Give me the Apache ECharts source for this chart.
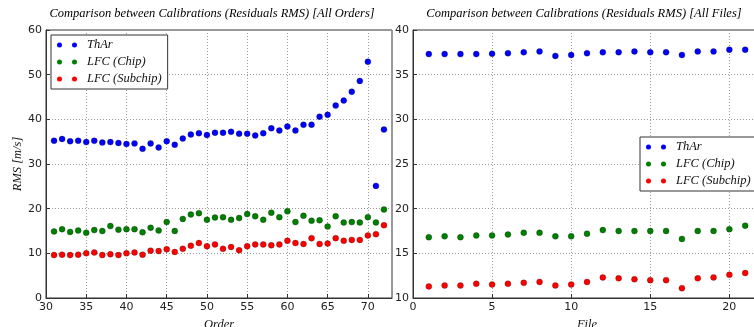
<!DOCTYPE html>
<html>
<head>
<meta charset="utf-8">
<script src="https://cdn.jsdelivr.net/npm/echarts@6/dist/echarts.min.js"></script>
<style>
  html, body { margin: 0; padding: 0; background: #fff; }
  #chart { width: 754px; height: 327px; }
</style>
</head>
<body>
<div id="chart"></div>
<script>
// Echelle orders 31..72
const orders = [31,32,33,34,35,36,37,38,39,40,41,42,43,44,45,46,47,48,49,50,51,52,53,54,55,56,57,58,59,60,61,62,63,64,65,66,67,68,69,70,71,72];
const tharByOrder = [35.2,35.6,35.1,35.2,34.9,35.2,34.8,34.9,34.7,34.5,34.6,33.4,34.6,33.7,35.1,34.3,35.7,36.6,36.9,36.5,37.0,37.0,37.2,36.8,36.8,36.4,36.9,38.0,37.5,38.4,37.5,38.8,38.8,40.6,41.0,43.1,44.2,46.2,48.6,52.9,25.1,37.7];
const chipByOrder = [14.9,15.4,14.8,15.1,14.6,15.2,15.0,16.1,15.3,15.4,15.4,14.7,15.7,15.1,17.0,15.0,17.7,18.7,19.0,17.5,18.0,18.1,17.5,17.9,18.8,18.3,17.5,19.1,18.1,19.4,17.0,18.4,17.3,17.4,16.0,18.3,16.9,17.0,16.9,18.1,16.9,19.8];
const subchipByOrder = [9.6,9.7,9.6,9.7,10.0,10.2,9.6,9.8,9.6,10.0,10.2,9.7,10.6,10.5,10.9,10.3,11.0,11.7,12.3,11.6,12.0,11.0,11.4,10.7,11.6,12.0,12.0,11.8,12.0,12.8,12.3,12.1,13.4,12.1,12.2,13.4,12.8,13.0,13.0,14.0,14.3,16.3];

// Calibration files 1..21
const files = [1,2,3,4,5,6,7,8,9,10,11,12,13,14,15,16,17,18,19,20,21];
const tharByFile = [37.3,37.3,37.3,37.3,37.35,37.4,37.5,37.6,37.1,37.2,37.4,37.5,37.5,37.6,37.5,37.5,37.2,37.6,37.6,37.8,37.8];
const chipByFile = [16.8,16.9,16.8,17.0,17.0,17.1,17.3,17.3,16.9,16.9,17.2,17.6,17.5,17.5,17.5,17.5,16.6,17.5,17.5,17.7,18.1];
const subchipByFile = [11.3,11.4,11.4,11.6,11.5,11.6,11.7,11.8,11.4,11.5,11.8,12.3,12.2,12.1,12.0,12.0,11.1,12.2,12.3,12.6,12.8];

const seriesNames = ['ThAr', 'LFC (Chip)', 'LFC (Subchip)'];
const seriesColors = ['#0000ff', '#008000', '#ff0000'];

const titles = [
  'Comparison between Calibrations (Residuals RMS) [All Orders]',
  'Comparison between Calibrations (Residuals RMS) [All Files]'
];

const serifItalic = { fontFamily: 'Liberation Serif', fontStyle: 'italic', fontSize: 12.5, color: '#111' };
const tickFont = { fontFamily: 'DejaVu Sans', fontSize: 11, color: '#222' };

// two dots per legend entry
const twoDots = 'path://M0,2.5a2.5,2.5 0 1,0 5,0a2.5,2.5 0 1,0 -5,0zM15,2.5a2.5,2.5 0 1,0 5,0a2.5,2.5 0 1,0 -5,0z';

function pairs(xs, ys) { return xs.map((x, i) => [x, ys[i]]); }

function valueAxis(gridIndex, min, max, interval, extra) {
  return Object.assign({
    type: 'value', gridIndex, min, max, interval,
    axisLine: { show: true, lineStyle: { color: '#333', width: 1 } },
    axisTick: { show: true, inside: true, length: 4, lineStyle: { color: '#333' } },
    axisLabel: Object.assign({ margin: 4, showMaxLabel: true }, tickFont),
    splitLine: { show: true, lineStyle: { color: '#999', type: [1, 2], width: 1 } }
  }, extra || {});
}

function scatter(name, color, xAxisIndex, yAxisIndex, data) {
  return {
    type: 'scatter', name, xAxisIndex, yAxisIndex, data,
    symbol: 'circle', symbolSize: 6,
    itemStyle: { color, borderColor: 'rgba(0,0,0,0.5)', borderWidth: 0.5, opacity: 1 },
    emphasis: { disabled: true }
  };
}

function legendBox(left, top) {
  return {
    orient: 'vertical', left, top,
    data: seriesNames,
    icon: twoDots, itemWidth: 20, itemHeight: 5, itemGap: 3,
    itemStyle: { borderWidth: 0 },
    padding: [3, 6, 3, 6],
    backgroundColor: '#fff', borderColor: '#333', borderWidth: 1,
    textStyle: Object.assign({ lineHeight: 14, padding: [0, 0, 0, 5] }, serifItalic)
  };
}

const chart = echarts.init(document.getElementById('chart'), null, { renderer: 'canvas' });

chart.setOption({
  animation: false,
  backgroundColor: '#fff',
  grid: [
    { left: 46, top: 30, width: 346, height: 268, show: true, borderColor: '#333', borderWidth: 1, containLabel: false, outerBoundsMode: 'none' },
    { left: 413, top: 30, width: 348, height: 268, show: true, borderColor: '#333', borderWidth: 1, containLabel: false, outerBoundsMode: 'none' }
  ],
  graphic: [
    { type: 'text', x: 212, y: 14, style: Object.assign({ text: titles[0], align: 'center', verticalAlign: 'middle' }, serifItalic) },
    { type: 'text', x: 584, y: 14, style: Object.assign({ text: titles[1], align: 'center', verticalAlign: 'middle' }, serifItalic) }
  ],
  xAxis: [
    valueAxis(0, 30, 73, 5, {
      name: 'Order', nameLocation: 'middle', nameGap: 15, nameTextStyle: serifItalic,
      axisLabel: Object.assign({ margin: 4, showMaxLabel: false }, tickFont)
    }),
    valueAxis(1, 0, 22, 5, {
      name: 'File', nameLocation: 'middle', nameGap: 15, nameTextStyle: serifItalic,
      axisLabel: Object.assign({ margin: 4, showMaxLabel: false }, tickFont)
    })
  ],
  yAxis: [
    valueAxis(0, 0, 60, 10, {
      name: 'RMS [m/s]', nameLocation: 'middle', nameGap: 18, nameTextStyle: serifItalic
    }),
    valueAxis(1, 10, 40, 5)
  ],
  legend: [legendBox(51, 35), legendBox(640, 137)],
  series: [
    scatter(seriesNames[0], seriesColors[0], 0, 0, pairs(orders, tharByOrder)),
    scatter(seriesNames[1], seriesColors[1], 0, 0, pairs(orders, chipByOrder)),
    scatter(seriesNames[2], seriesColors[2], 0, 0, pairs(orders, subchipByOrder)),
    scatter(seriesNames[0], seriesColors[0], 1, 1, pairs(files, tharByFile)),
    scatter(seriesNames[1], seriesColors[1], 1, 1, pairs(files, chipByFile)),
    scatter(seriesNames[2], seriesColors[2], 1, 1, pairs(files, subchipByFile))
  ]
});
</script>
</body>
</html>
